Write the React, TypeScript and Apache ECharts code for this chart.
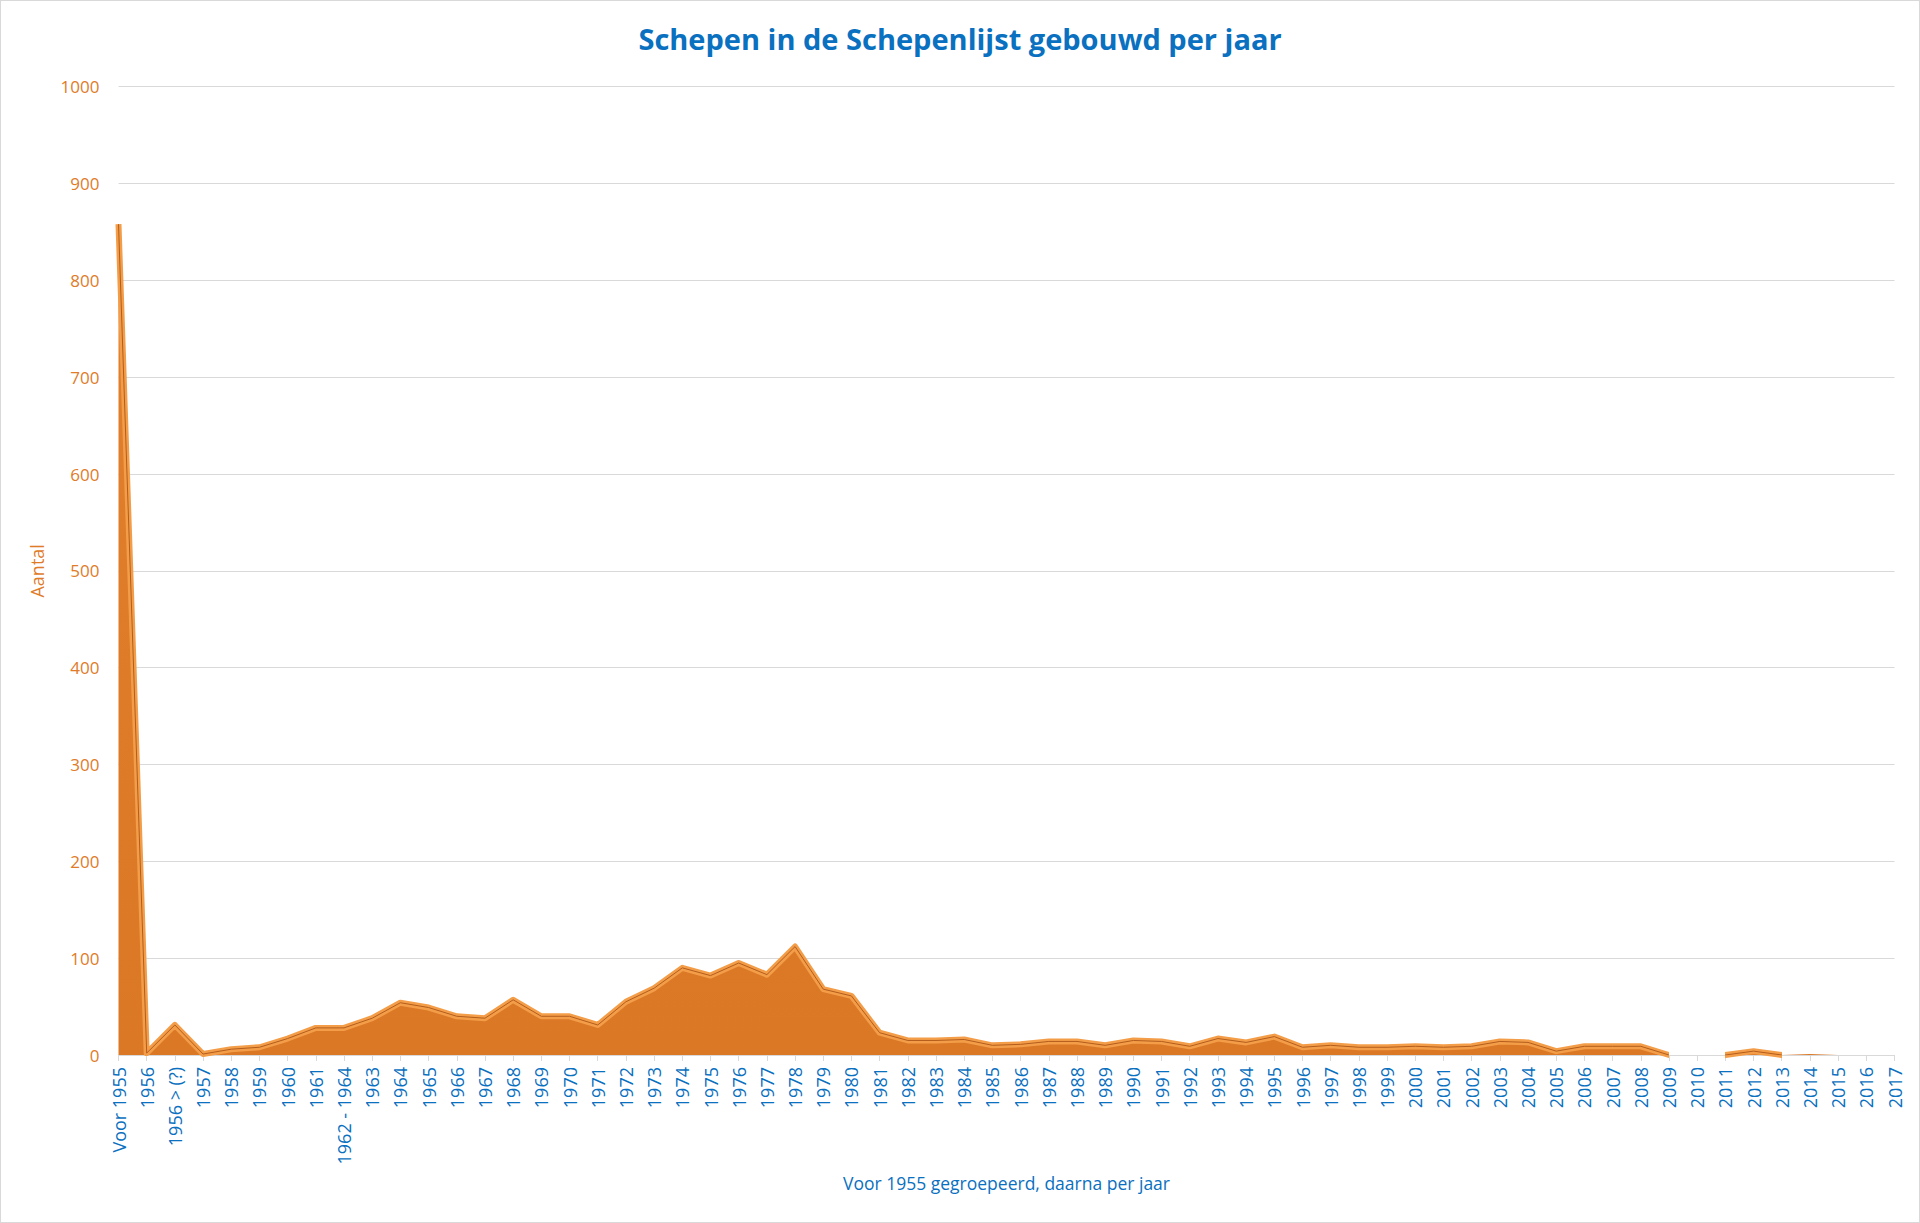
import React, { useEffect, useRef } from "react";
import * as echarts from "echarts";

const categories: string[] = [
  "Voor 1955", "1956", "1956 > (?)", "1957", "1958", "1959", "1960", "1961", "1962 - 1964",
  "1963", "1964", "1965", "1966", "1967", "1968", "1969", "1970", "1971", "1972", "1973",
  "1974", "1975", "1976", "1977", "1978", "1979", "1980", "1981", "1982", "1983", "1984",
  "1985", "1986", "1987", "1988", "1989", "1990", "1991", "1992", "1993", "1994", "1995",
  "1996", "1997", "1998", "1999", "2000", "2001", "2002", "2003", "2004", "2005", "2006",
  "2007", "2008", "2009", "2010", "2011", "2012", "2013", "2014", "2015", "2016", "2017",
];

const aantal: number[] = [
  858, 2, 31, 1, 6, 8, 17, 28, 28,
  38, 54, 49, 40, 38, 57, 40, 40, 31, 55, 69,
  90, 82, 95, 83, 112, 68, 61, 23, 15, 15, 16,
  10, 11, 14, 14, 10, 15, 14, 9, 17, 13, 19,
  8, 10, 8, 8, 9, 8, 9, 14, 13, 4, 9,
  9, 9, 0, 0, 0, 4, 0, 1, 0, 0, 0,
];

const yTicks = { min: 0, max: 1000, interval: 100 };

const titleText = "Schepen in de Schepenlijst gebouwd per jaar";
const xName = "Voor 1955 gegroepeerd, daarna per jaar";
const yName = "Aantal";

function edgePieces(on: string) {
  // hide the top edge where the series lies flat on zero
  return [
    { lte: 55, color: on },
    { gt: 55, lt: 57, color: "rgba(0,0,0,0)" },
    { gte: 57, lte: 59, color: on },
    { gt: 59, color: "rgba(0,0,0,0)" },
  ];
}

export default function App() {
  const ref = useRef<HTMLDivElement>(null);
  useEffect(() => {
    document.body.style.margin = "0";
    if (!ref.current) return;
    const chart = echarts.init(ref.current, undefined, { renderer: "svg" });
    const font = "'Open Sans', 'Noto Sans', sans-serif";
    chart.setOption({
      animation: false,
      backgroundColor: "#ffffff",
      title: {
        text: titleText,
        left: "center",
        top: 18,
        textStyle: { color: "#0a70c0", fontSize: 29, fontWeight: "bold", fontFamily: font },
      },
      grid: { left: 117.5, right: 24.5, top: 85.7, bottom: 167 },
      visualMap: [
        { type: "piecewise", show: false, dimension: 0, seriesIndex: 0, pieces: edgePieces("#f39d48") },
        { type: "piecewise", show: false, dimension: 0, seriesIndex: 1, pieces: edgePieces("#b35c1c") },
      ],
      xAxis: {
        type: "category",
        data: categories,
        boundaryGap: false,
        name: xName,
        nameLocation: "middle",
        nameGap: 119,
        nameTextStyle: { color: "#0a70c0", fontSize: 17.5, fontFamily: font },
        axisLine: { show: true, lineStyle: { color: "#d9d9d9", width: 1 } },
        axisTick: { show: true, alignWithLabel: true, interval: 0, length: 6, lineStyle: { color: "#d9d9d9" } },
        axisLabel: {
          interval: 0,
          rotate: 90,
          margin: 12,
          color: "#0a70c0",
          fontSize: 18,
          fontFamily: font,
        },
        splitLine: { show: false },
      },
      yAxis: {
        type: "value",
        min: yTicks.min,
        max: yTicks.max,
        interval: yTicks.interval,
        name: yName,
        nameLocation: "middle",
        nameGap: 73,
        nameTextStyle: { color: "#e07b28", fontSize: 18, fontFamily: font },
        axisLine: { show: false },
        axisTick: { show: false },
        axisLabel: {
          color: "#e07b28",
          fontSize: 17,
          margin: 19,
          fontFamily: font,
          formatter: (v: number) => String(v),
        },
        splitLine: { show: true, lineStyle: { color: "#d9d9d9", width: 1 } },
      },
      series: [
        {
          type: "line",
          data: aantal,
          symbol: "none",
          z: 2,
          lineStyle: { width: 6, join: "round" },
          areaStyle: {
            opacity: 1,
            color: new echarts.graphic.LinearGradient(0, 0, 0, 1, [
              { offset: 0, color: "#e07f2c" },
              { offset: 1, color: "#db7826" },
            ]),
          },
        },
        {
          type: "line",
          data: aantal,
          symbol: "none",
          z: 3,
          silent: true,
          lineStyle: { width: 1 },
        },
      ],
    });
    return () => chart.dispose();
  }, []);
  return (
    <div
      ref={ref}
      style={{
        position: "fixed",
        left: 0,
        top: 0,
        width: 1920,
        height: 1223,
        boxSizing: "border-box",
        border: "1px solid #d9d9d9",
      }}
    />
  );
}
